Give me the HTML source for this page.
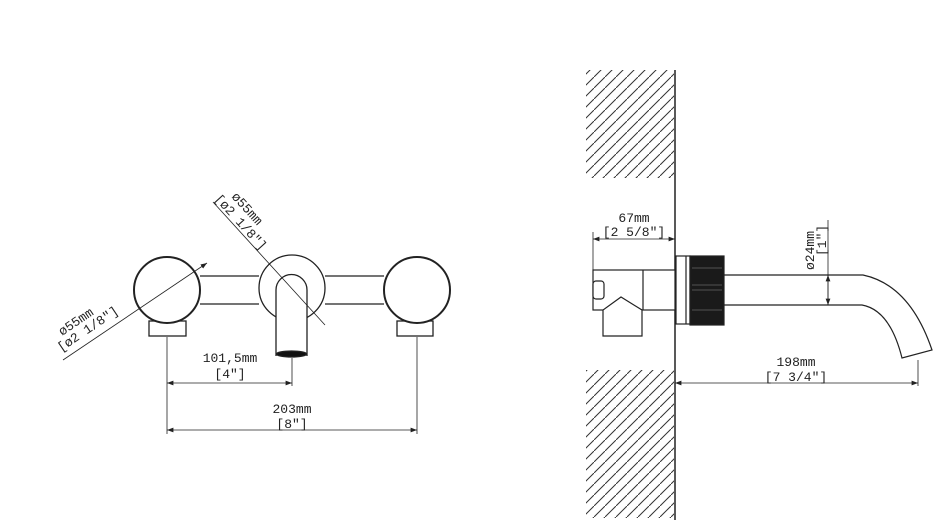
<!DOCTYPE html>
<html><head><meta charset="utf-8"><style>body{margin:0;background:#fff}svg{display:block}</style></head>
<body>
<svg width="946" height="520" viewBox="0 0 946 520" xmlns="http://www.w3.org/2000/svg" font-family="Liberation Mono, DejaVu Sans Mono, monospace" font-size="13" fill="none" stroke="#222">
<defs>
<pattern id="hp" width="11" height="11" patternUnits="userSpaceOnUse"><path d="M-2,13 L13,-2" stroke="#333" stroke-width="1"/></pattern>
<marker id="a" markerWidth="8" markerHeight="6" refX="8" refY="3" orient="auto-start-reverse"><path d="M0,0 L8,3 L0,6 z" fill="#222" stroke="none"/></marker>
</defs>
<!-- LEFT VIEW -->
<g stroke-width="1.3">
<line x1="200" y1="276" x2="259" y2="276"/><line x1="200" y1="304" x2="259" y2="304"/>
<line x1="325" y1="276" x2="384" y2="276"/><line x1="325" y1="304" x2="384" y2="304"/>
<rect x="149" y="321" width="37" height="15"/>
<rect x="397" y="321" width="36" height="15"/>
<circle cx="167" cy="290" r="33" fill="#fff" stroke-width="2"/>
<circle cx="417" cy="290" r="33" fill="#fff" stroke-width="2"/>
<circle cx="292" cy="288" r="33" fill="#fff"/>
<path d="M276,356 L276,290 A15.5,15.5 0 0 1 307,290 L307,356" fill="#fff"/>
<ellipse cx="291.5" cy="354" rx="15" ry="3" fill="#111"/>
</g>
<g stroke-width="0.8">
<line x1="167" y1="337" x2="167" y2="434"/><line x1="292" y1="358" x2="292" y2="386"/><line x1="417" y1="337" x2="417" y2="434"/>
<line x1="167" y1="383" x2="292" y2="383" marker-start="url(#a)" marker-end="url(#a)"/>
<line x1="167" y1="430" x2="417" y2="430" marker-start="url(#a)" marker-end="url(#a)"/>
<line x1="63" y1="360" x2="207" y2="263" marker-end="url(#a)"/>
<line x1="213" y1="202" x2="325" y2="325"/>
</g>
<g fill="#222" stroke="none">
<text x="230" y="362" text-anchor="middle">101,5mm</text><text x="230" y="378" text-anchor="middle">[4″]</text>
<text x="292" y="413" text-anchor="middle">203mm</text><text x="292" y="428" text-anchor="middle">[8″]</text>
<text transform="translate(62,336) rotate(-34)">ø55mm</text>
<text transform="translate(61,352) rotate(-34)">[ø2 1/8″]</text>
<text transform="translate(231,197) rotate(47.7)">ø55mm</text>
<text transform="translate(214,199) rotate(47.7)">[ø2 1/8″]</text>
</g>
<!-- RIGHT VIEW -->
<rect x="586" y="70" width="88" height="108" fill="url(#hp)" stroke="none"/>
<rect x="586" y="370" width="88" height="148" fill="url(#hp)" stroke="none"/>
<line x1="675" y1="70" x2="675" y2="520" stroke-width="1.5"/>
<g stroke-width="1.2">
<rect x="593" y="270" width="82" height="40" fill="#fff"/>
<line x1="643" y1="270" x2="643" y2="310"/>
<path d="M603,336 L603,310 L621,297 L642,310 L642,336 Z" fill="#fff"/>
<rect x="593" y="281" width="11" height="18" rx="3" fill="#fff"/>
<rect x="676" y="256" width="14" height="68" fill="#fff"/>
<line x1="686" y1="256" x2="686" y2="324"/>
<rect x="690" y="256" width="34" height="69" fill="#1a1a1a"/>
<path d="M724,275 L863,275 Q910,285 932,350 L902,358 Q890,310 862,305 L724,305"/>
</g>
<g stroke="#888" stroke-width="0.6">
<line x1="692" y1="268" x2="722" y2="268"/><line x1="692" y1="285" x2="722" y2="285"/><line x1="692" y1="290" x2="722" y2="290"/><line x1="692" y1="310" x2="722" y2="310"/>
</g>
<g stroke-width="0.8">
<line x1="593" y1="232" x2="593" y2="270"/>
<line x1="593" y1="239" x2="675" y2="239" marker-start="url(#a)" marker-end="url(#a)"/>
<line x1="828" y1="220" x2="828" y2="305"/>
<line x1="828" y1="275" x2="828" y2="305" marker-start="url(#a)" marker-end="url(#a)"/>
<line x1="918" y1="360" x2="918" y2="386"/>
<line x1="675" y1="383" x2="918" y2="383" marker-start="url(#a)" marker-end="url(#a)"/>
</g>
<g fill="#222" stroke="none">
<text x="634" y="222" text-anchor="middle">67mm</text><text x="634" y="236" text-anchor="middle">[2 5/8″]</text>
<text x="796" y="366" text-anchor="middle">198mm</text><text x="796" y="381" text-anchor="middle">[7 3/4″]</text>
<text transform="translate(814,270) rotate(-90)">ø24mm</text>
<text transform="translate(826,256) rotate(-90)">[1″]</text>
</g>
</svg>
</body></html>
